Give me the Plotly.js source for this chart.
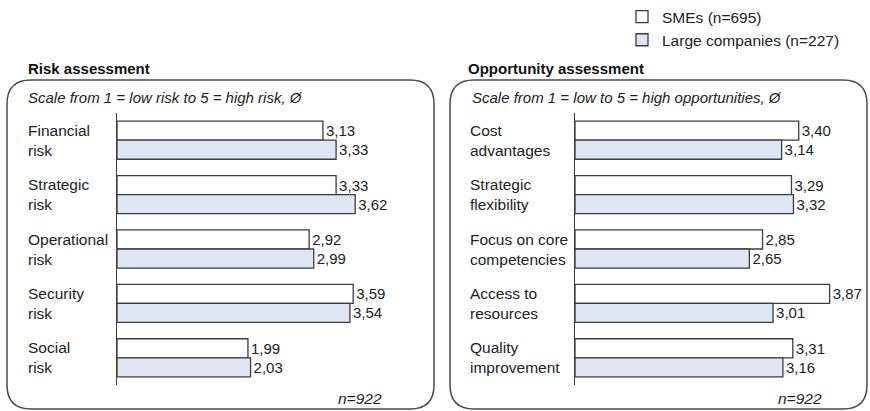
<!DOCTYPE html>
<html>
<head>
<meta charset="utf-8">
<script src="https://cdn.plot.ly/plotly-3.0.1.min.js"></script>
<style>html,body{margin:0;padding:0;background:#fff;}#chart{width:870px;height:411px;}</style>
</head>
<body>
<div id="chart"></div>
<script>
// ---- data ----
const seriesNames = ["SMEs (n=695)", "Large companies (n=227)"];
const riskCategories = ["Financial risk", "Strategic risk", "Operational risk", "Security risk", "Social risk"];
const riskSMEs = [3.13, 3.33, 2.92, 3.59, 1.99];
const riskLarge = [3.33, 3.62, 2.99, 3.54, 2.03];
const oppCategories = ["Cost advantages", "Strategic flexibility", "Focus on core competencies", "Access to resources", "Quality improvement"];
const oppSMEs = [3.40, 3.29, 2.85, 3.87, 3.31];
const oppLarge = [3.14, 3.32, 2.65, 3.01, 3.16];
const panelTitles = ["Risk assessment", "Opportunity assessment"];
const panelSubtitles = ["Scale from 1 = low risk to 5 = high risk, Ø", "Scale from 1 = low to 5 = high opportunities, Ø"];
const sampleNote = "n=922";

// ---- layout helpers ----
const W = 870, H = 411;
const px = x => x / W;
const py = y => 1 - y / H;
const FONT = "Liberation Sans, Arial, sans-serif";
const lineColor = "#3c3c3c";
const fills = ["#ffffff", "#dde6f2"];
const FS = 15.5;

function wrapLast(s) {
  const i = s.lastIndexOf(" ");
  return i < 0 ? s : s.slice(0, i) + "<br>" + s.slice(i + 1);
}

function barTrace(cats, vals, k, xa, ya, show) {
  return {
    type: "bar", orientation: "h",
    y: cats, x: vals, name: seriesNames[k],
    xaxis: xa, yaxis: ya,
    showlegend: show,
    marker: {color: fills[k], line: {color: lineColor, width: 1.3}},
    texttemplate: "%{x:.2f}", textposition: "outside",
    textfont: {family: FONT, size: 15, color: "#222"},
    cliponaxis: false, hoverinfo: "x+y"
  };
}

const data = [
  barTrace(riskCategories, riskSMEs, 0, "x", "y", true),
  barTrace(riskCategories, riskLarge, 1, "x", "y", true),
  barTrace(oppCategories, oppSMEs, 0, "x2", "y2", false),
  barTrace(oppCategories, oppLarge, 1, "x2", "y2", false)
];

function roundRect(x0, y0, x1, y1, r) {
  const rx = r / W, ry = r / H;
  const X0 = px(x0), X1 = px(x1), Y0 = py(y0), Y1 = py(y1);
  return `M${X0 + rx},${Y0} L${X1 - rx},${Y0} Q${X1},${Y0} ${X1},${Y0 - ry} ` +
         `L${X1},${Y1 + ry} Q${X1},${Y1} ${X1 - rx},${Y1} L${X0 + rx},${Y1} ` +
         `Q${X0},${Y1} ${X0},${Y1 + ry} L${X0},${Y0 - ry} Q${X0},${Y0} ${X0 + rx},${Y0} Z`;
}

const yDomain = [py(385), py(113)];
const yAxisBase = {
  type: "category", autorange: "reversed", domain: yDomain,
  showticklabels: false, ticks: "", showgrid: false, zeroline: false,
  showline: true, linecolor: lineColor, linewidth: 1.3, fixedrange: true
};

const annotations = [];
function catLabels(cats, ya, xLeft) {
  cats.forEach(c => annotations.push({
    xref: "paper", yref: ya, x: px(xLeft), y: c, xanchor: "left", yanchor: "middle",
    text: wrapLast(c), showarrow: false, align: "left",
    font: {family: FONT, size: FS, color: "#222"}
  }));
}
catLabels(riskCategories, "y", 26);
catLabels(oppCategories, "y2", 468);

[[26, 0], [466, 1]].forEach(([x, k]) => {
  annotations.push({xref: "paper", yref: "paper", x: px(x), y: py(68), xanchor: "left", yanchor: "middle",
    text: "<b>" + panelTitles[k] + "</b>", showarrow: false, font: {family: FONT, size: 15, color: "#111"}});
});
[[26, 0], [470, 1]].forEach(([x, k]) => {
  annotations.push({xref: "paper", yref: "paper", x: px(x), y: py(98), xanchor: "left", yanchor: "middle",
    text: "<i>" + panelSubtitles[k] + "</i>", showarrow: false, font: {family: FONT, size: 15, color: "#222"}});
});
[384, 824].forEach(x => {
  annotations.push({xref: "paper", yref: "paper", x: px(x), y: py(398), xanchor: "right", yanchor: "middle",
    text: "<i>" + sampleNote + "</i>", showarrow: false, font: {family: FONT, size: FS, color: "#222"}});
});

const layout = {
  width: W, height: H,
  margin: {l: 0, r: 0, t: 0, b: 0},
  paper_bgcolor: "#fff", plot_bgcolor: "rgba(0,0,0,0)",
  separators: ",.",
  barmode: "group", bargap: 0.3, bargroupgap: 0,
  font: {family: FONT, size: FS, color: "#222"},
  xaxis: {domain: [px(117), px(117 + 65.8 * 4.5)], range: [0, 4.5], visible: false, fixedrange: true},
  xaxis2: {domain: [px(575), px(575 + 65.8 * 4.2)], range: [0, 4.2], visible: false, fixedrange: true},
  yaxis: Object.assign({anchor: "x"}, yAxisBase),
  yaxis2: Object.assign({anchor: "x2"}, yAxisBase),
  showlegend: true,
  legend: {x: px(622), y: 1, xanchor: "left", yanchor: "top", traceorder: "normal",
    font: {family: FONT, size: FS, color: "#222"}, bgcolor: "rgba(0,0,0,0)", tracegroupgap: 0},
  shapes: [
    {type: "path", xref: "paper", yref: "paper", path: roundRect(7, 80, 434, 409, 24),
     line: {color: "#4a4a4a", width: 1.5}, fillcolor: "rgba(0,0,0,0)", layer: "below"},
    {type: "path", xref: "paper", yref: "paper", path: roundRect(450, 80, 867, 409, 24),
     line: {color: "#4a4a4a", width: 1.5}, fillcolor: "rgba(0,0,0,0)", layer: "below"}
  ],
  annotations: annotations
};

Plotly.newPlot("chart", data, layout, {displayModeBar: false, staticPlot: true});
</script>
</body>
</html>
